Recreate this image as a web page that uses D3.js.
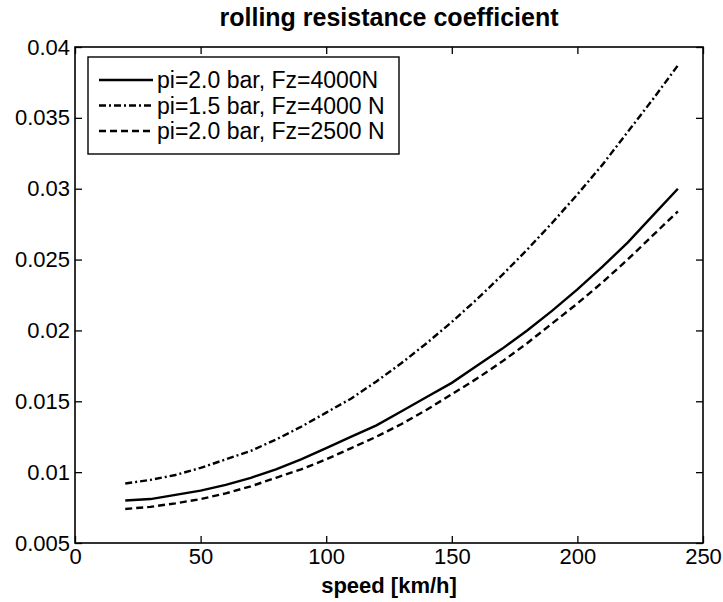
<!DOCTYPE html>
<html>
<head>
<meta charset="utf-8">
<script src="https://cdn.jsdelivr.net/npm/d3@7"></script>
<style>
  html, body { margin: 0; padding: 0; background: #fff; }
  svg { display: block; font-family: "Liberation Sans", Arial, sans-serif; }
</style>
</head>
<body>
<svg id="chart" width="723" height="602"></svg>
<script>
// ---- data ----
const speeds = [20,30,40,50,60,70,80,90,100,110,120,130,140,150,160,170,180,190,200,210,220,230,240];
const seriesSolid   = [0.0080,0.0081,0.0084,0.0087,0.0091,0.0096,0.0102,0.0109,0.0117,0.0125,0.0133,0.0143,0.0153,0.0163,0.0175,0.0187,0.0200,0.0214,0.0229,0.0245,0.0262,0.0281,0.0300];
const seriesDashDot = [0.0092,0.00945,0.0098,0.0103,0.0109,0.0115,0.0123,0.0132,0.0142,0.0152,0.0164,0.0177,0.0191,0.0206,0.0222,0.0239,0.0257,0.0276,0.0296,0.0317,0.0340,0.0363,0.0387];
const seriesDashed  = [0.0074,0.00755,0.0078,0.0081,0.0085,0.0090,0.0096,0.0102,0.0109,0.0117,0.0125,0.0134,0.0144,0.0155,0.0166,0.0178,0.0191,0.0205,0.0219,0.0234,0.0250,0.0267,0.0284];
const seriesNames = ["pi=2.0 bar, Fz=4000N", "pi=1.5 bar, Fz=4000 N", "pi=2.0 bar, Fz=2500 N"];
const xTicks = [0,50,100,150,200,250];
const yTicks = [0.005,0.01,0.015,0.02,0.025,0.03,0.035,0.04];
const yTickLabels = ["0.005","0.01","0.015","0.02","0.025","0.03","0.035","0.04"];
const titleText = "rolling resistance coefficient";
const xLabelText = "speed [km/h]";

// ---- layout ----
const L = 75, R = 703, T = 47, B = 543;
const svg = d3.select("#chart");
const x = d3.scaleLinear().domain([0,250]).range([L,R]);
const y = d3.scaleLinear().domain([0.005,0.04]).range([B,T]);

const series = [
  {name: seriesNames[0], values: seriesSolid,   dash: null},
  {name: seriesNames[1], values: seriesDashDot, dash: "7,3,2,3"},
  {name: seriesNames[2], values: seriesDashed,  dash: "7,4"}
];

svg.append("rect").attr("x",0).attr("y",0).attr("width",723).attr("height",602).attr("fill","#fff");

// lines
const line = d3.line().x((d,i)=>x(speeds[i])).y(d=>y(d));
series.forEach(s => {
  svg.append("path").datum(s.values)
    .attr("d", line)
    .attr("fill","none")
    .attr("stroke","#000")
    .attr("stroke-width",2.4)
    .attr("stroke-dasharray", s.dash);
});

// axes (MATLAB style: ticks inward, box)
const tickLen = 7;
const fontSize = 22;
const axB = d3.axisBottom(x).tickValues(xTicks).tickSize(-tickLen).tickPadding(5).tickFormat(d3.format("d"));
const axT = d3.axisTop(x).tickValues(xTicks).tickSize(-tickLen).tickFormat("");
const axL = d3.axisLeft(y).tickValues(yTicks).tickSize(-tickLen).tickPadding(5).tickFormat((d,i)=>yTickLabels[i]);
const axR = d3.axisRight(y).tickValues(yTicks).tickSize(-tickLen).tickFormat("");

function style(g){
  g.select(".domain").remove();
  g.selectAll(".tick line").attr("stroke","#000").attr("stroke-width",1.3);
  g.selectAll(".tick text").attr("fill","#000").style("font-size",fontSize+"px").style("font-family","'Liberation Sans', Arial, sans-serif");
}
svg.append("g").attr("transform",`translate(0,${B})`).call(axB).call(style);
svg.append("g").attr("transform",`translate(0,${T})`).call(axT).call(style);
svg.append("g").attr("transform",`translate(${L},0)`).call(axL).call(style);
svg.append("g").attr("transform",`translate(${R},0)`).call(axR).call(style);

// box
svg.append("rect").attr("x",L).attr("y",T).attr("width",R-L).attr("height",B-T)
  .attr("fill","none").attr("stroke","#000").attr("stroke-width",1.6);

// title & x label
svg.append("text").attr("x",(L+R)/2).attr("y",26).attr("text-anchor","middle")
  .style("font-size","25px").style("font-weight","bold").attr("fill","#000").text(titleText);
svg.append("text").attr("x",(L+R)/2).attr("y",593).attr("text-anchor","middle")
  .style("font-size","22px").style("font-weight","bold").attr("fill","#000").text(xLabelText);

// legend
const lg = svg.append("g");
lg.append("rect").attr("x",88).attr("y",57).attr("width",311).attr("height",97)
  .attr("fill","#fff").attr("stroke","#000").attr("stroke-width",1.4);
series.forEach((s,i) => {
  const cy = 80 + i*25.5;
  lg.append("line").attr("x1",99).attr("x2",153).attr("y1",cy).attr("y2",cy)
    .attr("stroke","#000").attr("stroke-width",2.4).attr("stroke-dasharray", s.dash);
  lg.append("text").attr("x",157).attr("y",cy).attr("dy","0.36em")
    .style("font-size","23px").attr("fill","#000").text(s.name);
});
</script>
</body>
</html>
